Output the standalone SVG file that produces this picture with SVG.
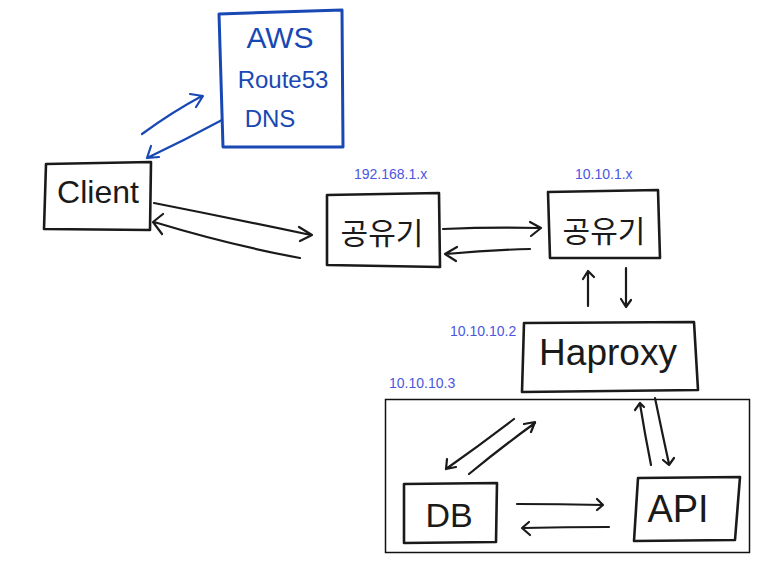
<svg xmlns="http://www.w3.org/2000/svg" width="761" height="571" viewBox="0 0 761 571">
<style>
.bx{fill:none;stroke:#1a1a1a;stroke-width:2.6;stroke-linecap:round;stroke-linejoin:round}
.bb{fill:none;stroke:#1848b4;stroke-width:3;stroke-linecap:round;stroke-linejoin:round}
.ln{fill:none;stroke:#1a1a1a;stroke-width:2.2;stroke-linecap:round;stroke-linejoin:round}
.lb{fill:none;stroke:#1848b4;stroke-width:2.2;stroke-linecap:round;stroke-linejoin:round}
.hw{font-family:"Liberation Sans","Noto Sans CJK KR",sans-serif;fill:#1a1a1a;text-anchor:middle}
.hb{font-family:"Liberation Sans",sans-serif;fill:#1848b4;text-anchor:middle}
.ip{font-family:"Liberation Sans",sans-serif;font-size:14px;fill:#4a56e0}
</style>
<rect width="761" height="571" fill="#ffffff"/>
<g id="aws">
<path class="bb" d="M219,14 L342,10 L343,147 L223,147 Z"/>
<text class="hb" x="280" y="48" font-size="30">AWS</text>
<text class="hb" x="283" y="88" font-size="24">Route53</text>
<text class="hb" x="270" y="127" font-size="24">DNS</text>
</g>
<g id="client">
<path class="bx" d="M46,164 L151,162 L150,230 L44,229 Z"/>
<text class="hw" x="98" y="203" font-size="32">Client</text>
</g>
<g id="router1">
<path class="bx" d="M327,195 L439,193 L440,267 L327,265 Z"/>
<text class="hw" x="382" y="244" font-size="30">공유기</text>
</g>
<g id="router2">
<path class="bx" d="M548,192 L658,190 L660,258 L550,258 Z"/>
<text class="hw" x="604" y="242" font-size="30">공유기</text>
</g>
<g id="haproxy">
<path class="bx" d="M524,323 L694,322 L698,390 L522,392 Z"/>
<text class="hw" x="608" y="365" font-size="37">Haproxy</text>
</g>
<g id="db">
<path class="bx" d="M404,484 L497,483 L496,542 L404,543 Z"/>
<text class="hw" x="449" y="527" font-size="34">DB</text>
</g>
<g id="api">
<path class="bx" d="M638,478 L740,477 L735,540 L634,541 Z"/>
<text class="hw" x="678" y="522" font-size="38">API</text>
</g>
<g id="zone">
<rect x="385.5" y="399.5" width="364" height="153" fill="none" stroke="#111" stroke-width="1.5"/>
</g>
<g id="labels">
<text class="ip" x="354" y="179">192.168.1.x</text>
<text class="ip" x="575" y="179">10.10.1.x</text>
<text class="ip" x="450" y="336">10.10.10.2</text>
<text class="ip" x="389" y="388">10.10.10.3</text>
</g>
<g id="connectors">
<path class="lb" d="M142,134 Q172,112 202,96 M190,94 L203,96 L196,107"/>
<path class="lb" d="M222,120 Q185,140 147,158 M151,146 L147,158 L159,157"/>
<path class="ln" d="M154,203 Q230,218 311,235 M299,227 L312,235 L300,241"/>
<path class="ln" d="M300,258 Q230,245 154,222 M163,214 L153,222 L162,234"/>
<path class="ln" d="M443,229 Q490,227 540,228 M530,222 L541,228 L531,236"/>
<path class="ln" d="M530,249 Q490,250 446,254 M457,247 L445,254 L456,261"/>
<path class="ln" d="M588,306 L588,271 M583,279 L588,271 L594,277"/>
<path class="ln" d="M626,268 L626,307 M621,299 L626,307 L631,300"/>
<path class="ln" d="M514,419 Q480,445 446,469 M447,459 L446,469 L456,467"/>
<path class="ln" d="M469,474 Q503,446 535,423 M524,424 L535,422 L531,432"/>
<path class="ln" d="M517,504 Q560,504 603,505 M597,499 L603,505 L597,510"/>
<path class="ln" d="M609,527 Q566,527 523,528 M529,522 L522,528 L530,535"/>
<path class="ln" d="M651,465 Q645,435 640,404 M635,410 L640,403 L644,407"/>
<path class="ln" d="M655,398 Q662,432 669,464 M663,460 L669,465 L674,458"/>
</g>
</svg>
